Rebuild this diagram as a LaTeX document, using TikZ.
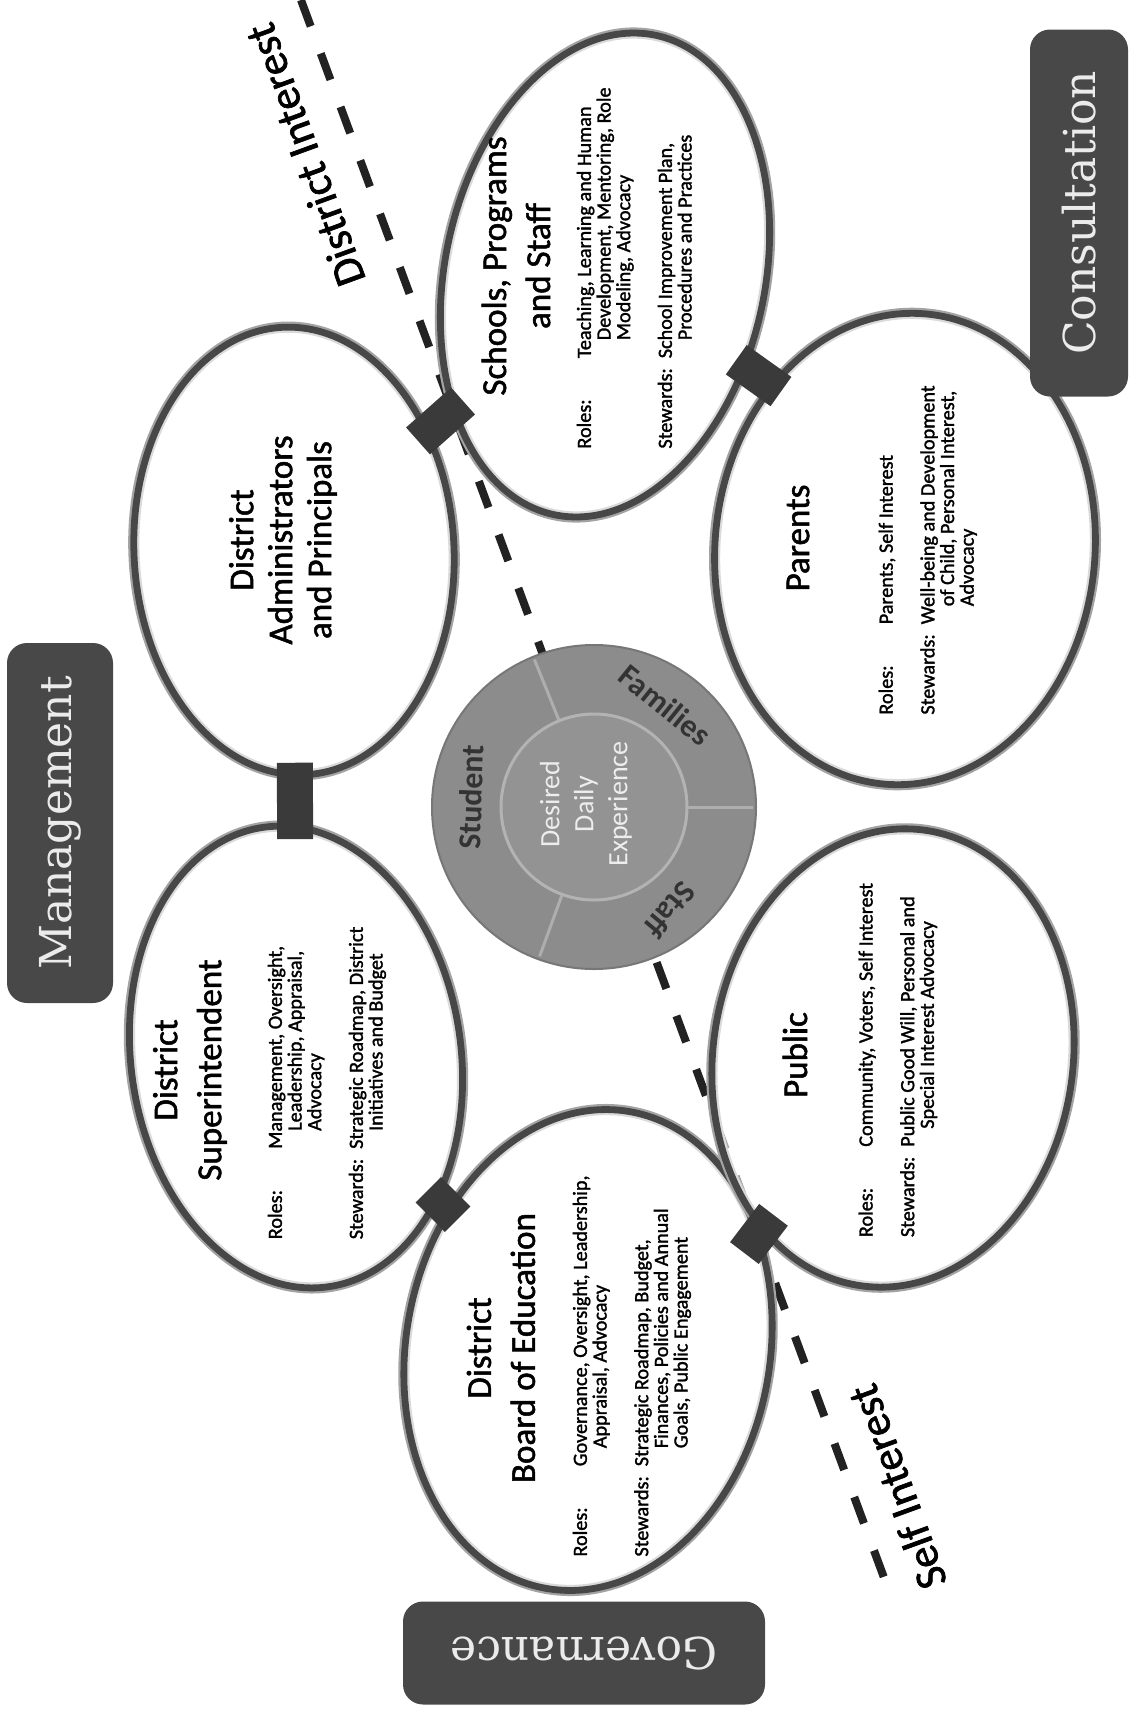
\documentclass[tikz,border=0pt]{standalone}
\usepackage{fontspec}
\setmainfont{Carlito}
\newfontfamily\inkfont[FakeBold=1.5]{Carlito}
\newfontfamily\tagfont{DejaVu Serif}
\usetikzlibrary{shapes.geometric,calc}

\definecolor{ringline}{HTML}{474747}
\definecolor{boxgray}{HTML}{484848}
\definecolor{coregray}{HTML}{8C8C8C}
\definecolor{innergray}{HTML}{939393}
\definecolor{dashgray}{HTML}{222222}

\newcommand{\more}{\\ & \hspace*{9pt}}
\newcommand{\duties}[2]{%
	\begin{tabular}{@{}l@{\hspace{5pt}}l@{}}
		Roles: & #1\\[11pt]
		Stewards: & #2
	\end{tabular}}

\begin{document}
\begin{tikzpicture}[x=0.5pt,y=-0.5pt,
		stake/.style={ellipse,draw=ringline,line width=3.4pt,fill=white,fill opacity=0.6,
			inner sep=0pt,outer sep=0pt,preaction={draw=ringline!50,line width=5.6pt,fill=none}},
		link/.style={draw=boxgray!80!black,line width=18pt},
		joint/.style={link,shorten <=-6pt,shorten >=-6pt},
		heading/.style={rotate=90,align=center,text=black,font=\inkfont\fontsize{17.5}{22}\selectfont},
		info/.style={rotate=90,text=black,font=\inkfont\fontsize{10.1}{9.4}\selectfont},
		tag/.style={rounded corners=10pt,fill=boxgray,text=white!92!black,inner sep=0pt,
			font=\tagfont\fontsize{22}{26}\selectfont},
		divide/.style={draw=dashgray,line width=4pt,dash pattern=on 14pt off 14.5pt},
		interest/.style={rotate=110,text=black,font=\inkfont\fontsize{22}{26}\selectfont},
		core/.style={circle,fill=coregray,draw=coregray!85!black,line width=1pt,minimum size=162pt,inner sep=0pt},
		hub/.style={circle,fill=innergray,draw=innergray!70!white,line width=1.5pt,minimum size=93pt,inner sep=0pt},
		spoke/.style={draw=innergray!75!white,line width=1.5pt},
		ringlabel/.style={text=black!80,font=\bfseries\fontsize{16}{18}\selectfont}]

	\fill[white] (0,0) rectangle (1129,1709);
	\useasboundingbox (0,0) rectangle (1129,1709);

	% interest line
	\coordinate (district-end) at (301,0);
	\coordinate (self-end) at (893,1602);
	\draw[divide] (district-end) -- (self-end);

	% stakeholder ellipses
	\node[stake,minimum width=160pt,minimum height=224pt,rotate=3] (admin) at (294,551) {};
	\node[stake,minimum width=165pt,minimum height=232pt,rotate=8] (supt) at (296,1057) {};
	\node[stake,minimum width=182pt,minimum height=242pt,rotate=-10] (board) at (588,1350) {};
	\node[stake,minimum width=180pt,minimum height=230pt,rotate=-8] (public) at (893,1058) {};
	\node[stake,minimum width=190pt,minimum height=236pt,rotate=-5] (parents) at (905,549) {};
	\node[stake,minimum width=160pt,minimum height=245pt,rotate=-12] (schools) at (605,275) {};

	\draw[joint] (admin) -- (supt);
	\draw[joint] (supt) -- (board);
	\draw[joint] (admin) -- (schools);
	\draw[link] ($(board.44)!-11pt!(public.center)$) -- ($(board.44)!13pt!(public.center)$);
	\draw[link,shorten <=-5pt,shorten >=-5pt] (schools.339) -- (parents.134);

	% centre
	\node[core] (core) at (594,807) {};
	\node[hub] (hub) at (core.center) {};
	\foreach \a in {-112,0,110}
		\draw[spoke] ($(core.center)+(\a:94)$) -- ($(core.center)+(\a:159)$);
	\node[rotate=90,align=center,text=white!93!black,font=\fontsize{14}{17}\selectfont] (core-text) at (586,804) {Desired\\Daily\\Experience};
	\node[ringlabel,rotate=88] (student) at (471,797) {Student};
	\node[ringlabel,rotate=-39] (families) at (665,705) {Families};
	\node[ringlabel,rotate=-130] (staff) at (670,910) {Staff};

	% texts
	\node[heading,font=\inkfont\fontsize{17.5}{19.5}\selectfont] (admin-title) at (283,540) {District\\Administrators\\and Principals};
	\node[heading] (supt-title) at (190,1070) {District\\Superintendent};
	\node[info] (supt-info) at (328,1083) {\duties{Management, Oversight,\more Leadership, Appraisal,\more Advocacy}{Strategic Roadmap, District\more Initiatives and Budget}};
	\node[heading] (board-title) at (501,1348) {District\\Board of Education};
	\node[info] (board-info) at (633,1366) {\duties{Governance, Oversight, Leadership,\more Appraisal, Advocacy}{Strategic Roadmap, Budget,\more Finances, Policies and Annual\more Goals, Public Engagement}};
	\node[heading] (public-title) at (795,1055) {Public};
	\node[info] (public-info) at (899,1060) {\duties{Community, Voters, Self Interest}{Public Good Will, Personal and\more Special Interest Advocacy}};
	\node[heading] (parents-title) at (798,538) {Parents};
	\node[info] (parents-info) at (929,550) {\duties{Parents, Self Interest}{Well-being and Development\more of Child, Personal Interest,\more Advocacy}};
	\node[heading] (schools-title) at (516,266) {Schools, Programs\\and Staff};
	\node[info] (schools-info) at (637,268) {\duties{Teaching, Learning and Human\more Development, Mentoring, Role\more Modeling, Advocacy}{School Improvement Plan,\more Procedures and Practices}};

	\node[interest] (district-label) at (305,155) {District Interest};
	\node[interest] (self-label) at (897,1487) {Self Interest};

	% group tags
	\node[tag,rotate=90,minimum width=180pt,minimum height=53pt] (management) at (60,823) {Management};
	\node[tag,rotate=90,minimum width=183.5pt,minimum height=49pt] (consultation) at (1079,213) {Consultation};
	\node[tag,rotate=180,minimum width=181pt,minimum height=51.5pt] (governance) at (584,1653) {Governance};
\end{tikzpicture}
\end{document}
